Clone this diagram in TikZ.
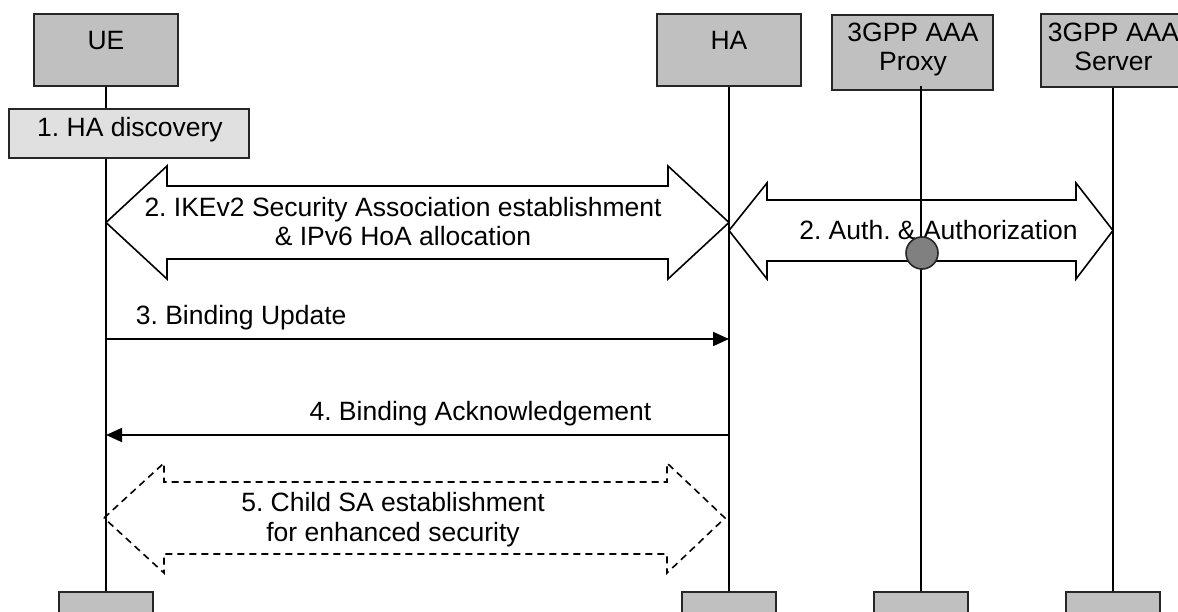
\documentclass[tikz,border=0pt]{standalone}
\usepackage{fontspec}
\setmainfont{Liberation Sans}
\usepackage{tikz}
\usetikzlibrary{arrows.meta}
\frenchspacing

\definecolor{boxgray}{HTML}{C0C0C0}
\definecolor{discgray}{HTML}{E0E0E0}
\definecolor{relaygray}{HTML}{808080}

\tikzset{
  entity/.style={draw=black!85, line width=2pt, fill=boxgray, minimum width=144pt, minimum height=72pt, inner sep=0pt},
  endbox/.style={entity, anchor=north, minimum width=94pt, minimum height=40pt},
  lifeline/.style={line width=1.6pt},
  blockarrow/.style={line width=1.6pt, line join=miter},
  msg/.style={line width=1.8pt, -{Triangle[length=16pt,width=14pt]}},
  boxtext/.style={font=\fontsize{26.5}{28.5}\selectfont, align=center, inner sep=0pt}
}

\begin{document}
\begin{tikzpicture}[x=1pt, y=-1pt, font=\fontsize{26.5}{29.5}\selectfont]
  \useasboundingbox (0,0) rectangle (1178,612);
  \clip (0,0) rectangle (1178,612);

  % entities
  \node[entity] (ue) at (106,50) {};
  \node[entity] (ha) at (729,50) {};
  \node[entity, minimum width=161pt, minimum height=75pt] (proxy) at (912.5,53) {};
  \node[entity, minimum height=73pt] (server) at (1113,50.5) {};
  \node[endbox] (ue-end) at (106,591) {};
  \node[endbox] (ha-end) at (729,591) {};
  \node[endbox] (proxy-end) at (921,591) {};
  \node[endbox] (server-end) at (1113,591) {};

  \node[boxtext, anchor=base] (ue-t) at (106,50) {UE};
  \node[boxtext, anchor=base] (ha-t) at (729,50) {HA};
  \node[boxtext, anchor=north] (proxy-t) at (913,23) {3GPP AAA\\Proxy};
  \node[boxtext, anchor=north] (server-t) at (1113.5,23) {3GPP AAA\\Server};

  % lifelines
  \draw[lifeline] (ue.south) -- (ue-end.north);
  \draw[lifeline] (ha.south) -- (ha-end.north);
  \draw[lifeline] (921,86) -- (proxy-end.north);
  \draw[lifeline] (server.south) -- (server-end.north);

  % 1. discovery
  \node[draw=black!85, line width=1.8pt, fill=discgray, minimum width=240pt, minimum height=49pt] (disc) at (129,133.5) {};
  \node[anchor=base, inner sep=0pt] (disc-t) at (130,137) {1. HA discovery};

  % 2. IKEv2 SA
  \draw[blockarrow] (106,222.5) -- (167,166) -- (167,186) -- (668,186) -- (668,166) -- (729,222.5)
    -- (668,279) -- (668,259) -- (167,259) -- (167,279) -- cycle;
  \node[align=center, anchor=north, inner sep=0pt] (ike-t) at (403,197) {2. IKEv2 Security Association establishment\\\& IPv6 HoA allocation};

  % 2. Auth
  \draw[blockarrow] (729,230.5) -- (767,183) -- (767,200) -- (1076,200) -- (1076,183) -- (1113,230.5)
    -- (1076,279) -- (1076,261) -- (767,261) -- (767,279) -- cycle;
  \node[anchor=base, inner sep=0pt] (auth-t) at (938.5,240) {2. Auth. \& Authorization};
  \node[circle, draw=black!85, line width=1.6pt, fill=relaygray, minimum size=32pt, inner sep=0pt] (relay) at (922,253) {};

  % 3./4. binding
  \coordinate (ue-3) at (106,339);
  \coordinate (ha-3) at (729,339);
  \coordinate (ue-4) at (106,435);
  \coordinate (ha-4) at (729,435);
  \path[msg] (ue-3) edge node[above, pos=.217, inner sep=8pt] {3. Binding Update} (ha-3);
  \path[msg] (ha-4) edge node[above, pos=.399, inner sep=7.7pt] {4. Binding Acknowledgement} (ue-4);

  % 5. child SA
  \draw[blockarrow, dash pattern=on 7pt off 5pt] (104,518) -- (164,463) -- (164,482) -- (667,482) -- (667,463) -- (725,518)
    -- (667,573) -- (667,554) -- (164,554) -- (164,573) -- cycle;
  \node[align=center, anchor=north, inner sep=0pt] (child-t) at (393,492.5) {5. Child SA establishment\\for enhanced security};
\end{tikzpicture}
\end{document}
